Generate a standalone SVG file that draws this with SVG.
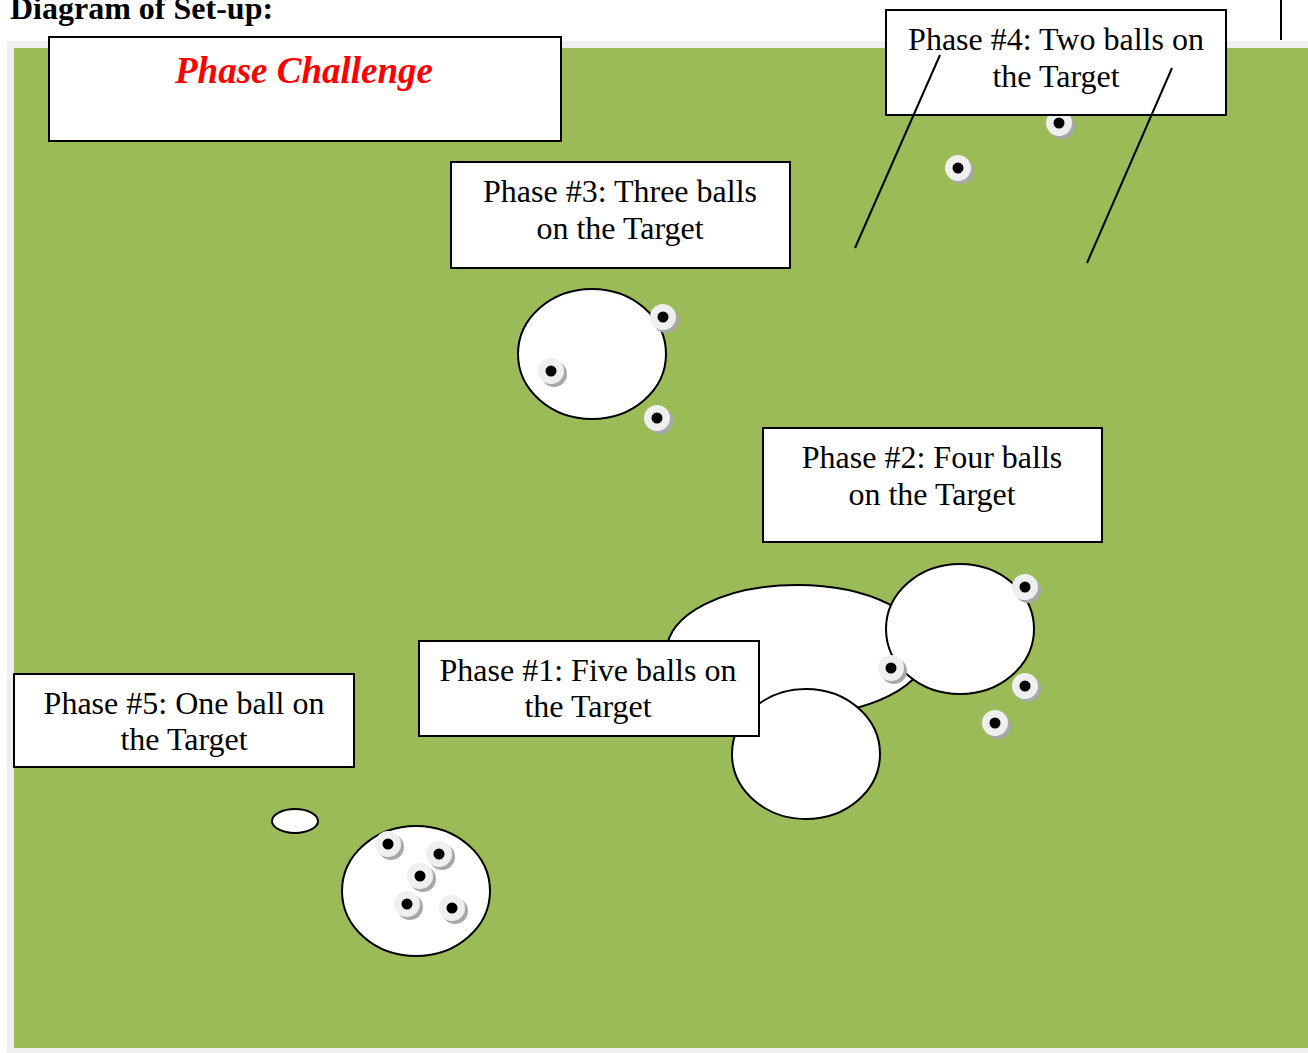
<svg xmlns="http://www.w3.org/2000/svg" xmlns:xlink="http://www.w3.org/1999/xlink" width="1308" height="1053" viewBox="0 0 1308 1053">
<style>
.box{fill:#fff;stroke:#000;stroke-width:2}
.tgt{fill:#fff;stroke:#000;stroke-width:2}
.lbl{font-family:"Liberation Serif",serif;font-size:32px;fill:#000;text-anchor:middle}
.ln{stroke:#000;stroke-width:2;fill:none}
</style>
<defs>
<g id="ball">
<circle cx="3" cy="3" r="13" fill="#a8a8a8"/>
<circle cx="0" cy="0" r="13" fill="#efefef"/>
<circle cx="0" cy="0" r="5.5" fill="#000"/>
</g>
</defs>
<rect width="1308" height="1053" fill="#fff"/>
<text x="10" y="19" font-family="Liberation Serif,serif" font-size="32" font-weight="bold">Diagram of Set-up:</text>
<line x1="1281" y1="0" x2="1281" y2="40" class="ln"/>
<rect x="7" y="41" width="1301" height="1012" fill="#efefef"/>
<rect x="14" y="48" width="1294" height="1000" fill="#9bbb59"/>
<g id="targets">
<ellipse cx="592" cy="354" rx="74" ry="65" class="tgt"/>
<ellipse cx="797" cy="650" rx="130" ry="65" class="tgt"/>
<ellipse cx="960" cy="629" rx="74" ry="65" class="tgt"/>
<ellipse cx="806" cy="754" rx="74" ry="65" class="tgt"/>
<ellipse cx="295" cy="821" rx="23" ry="12" class="tgt"/>
<ellipse cx="416" cy="891" rx="74" ry="65" class="tgt"/>
</g>
<g id="balls">
<use xlink:href="#ball" x="1059" y="123"/>
<use xlink:href="#ball" x="958" y="168"/>
<use xlink:href="#ball" x="663" y="317"/>
<use xlink:href="#ball" x="551" y="371"/>
<use xlink:href="#ball" x="657" y="418"/>
<use xlink:href="#ball" x="1025" y="587"/>
<use xlink:href="#ball" x="891" y="668"/>
<use xlink:href="#ball" x="1025" y="686"/>
<use xlink:href="#ball" x="995" y="723"/>
<use xlink:href="#ball" x="388" y="844"/>
<use xlink:href="#ball" x="439" y="854"/>
<use xlink:href="#ball" x="420" y="876"/>
<use xlink:href="#ball" x="407" y="904"/>
<use xlink:href="#ball" x="452" y="908"/>
</g>
<g id="title-box">
<rect x="49" y="37" width="512" height="104" class="box"/>
<text x="304" y="83" font-family="Liberation Serif,serif" font-size="37" font-weight="bold" font-style="italic" fill="#ff0000" text-anchor="middle">Phase Challenge</text>
</g>
<g id="phase4">
<rect x="886" y="10" width="340" height="105" class="box"/>
<text class="lbl" x="1056" y="50">Phase #4: Two balls on</text>
<text class="lbl" x="1056" y="87">the Target</text>
</g>
<g id="connectors">
<line x1="940" y1="55" x2="855" y2="248" class="ln"/>
<line x1="1172" y1="68" x2="1087" y2="263" class="ln"/>
</g>
<g id="phase3">
<rect x="451" y="162" width="339" height="106" class="box"/>
<text class="lbl" x="620" y="202">Phase #3: Three balls</text>
<text class="lbl" x="620" y="239">on the Target</text>
</g>
<g id="phase2">
<rect x="763" y="428" width="339" height="114" class="box"/>
<text class="lbl" x="932" y="468">Phase #2: Four balls</text>
<text class="lbl" x="932" y="505">on the Target</text>
</g>
<g id="phase1">
<rect x="419" y="641" width="340" height="95" class="box"/>
<text class="lbl" x="588" y="681">Phase #1: Five balls on</text>
<text class="lbl" x="588" y="717">the Target</text>
</g>
<g id="phase5">
<rect x="14" y="674" width="340" height="93" class="box"/>
<text class="lbl" x="184" y="714">Phase #5: One ball on</text>
<text class="lbl" x="184" y="750">the Target</text>
</g>
</svg>
